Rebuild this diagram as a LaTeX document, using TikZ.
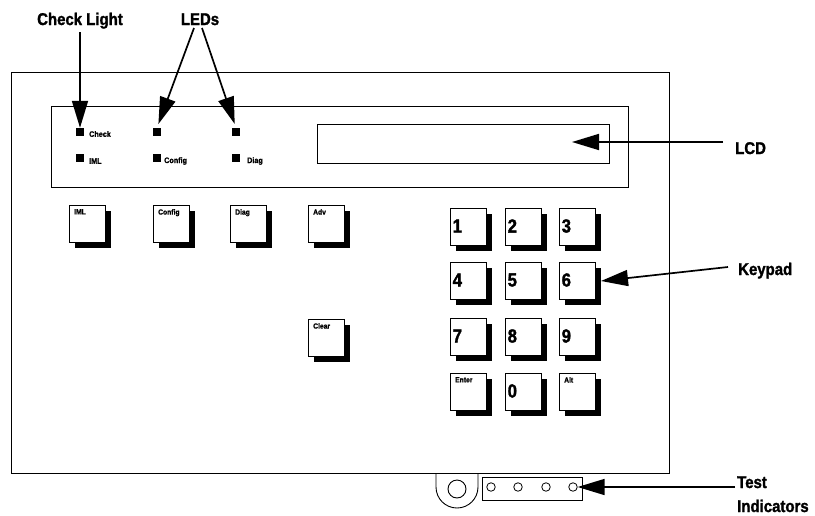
\documentclass[tikz,border=0pt]{standalone}
\usepackage{fontspec}
\newfontfamily\condb{Liberation Sans Bold}[FakeStretch=0.88, FakeBold=1.5]
\newfontfamily\condt{Liberation Sans Bold}[FakeStretch=0.9, FakeBold=1]
\usetikzlibrary{arrows.meta,shadows}
\begin{document}
\begin{tikzpicture}[x=1pt,y=-1pt,
  big/.style={font=\condb\fontsize{17}{20}\selectfont, inner sep=0pt},
  tiny/.style={font=\condt\fontsize{7.5}{8}\selectfont, inner sep=0pt},
  ledlab/.style={font=\condt\fontsize{8}{9}\selectfont, inner sep=0pt, anchor=west},
  digit/.style={font=\condb\fontsize{19}{22}\selectfont, inner sep=0pt, anchor=west, xshift=2.5pt, yshift=1pt},
  btnlab/.style={tiny, anchor=north west, xshift=5pt, yshift=-4pt},
  arr/.style={line width=1.7pt, -{Triangle[length=27pt,width=16pt]}},
  frame/.style={line width=0.9pt},
  key/.style={draw, line width=1pt, fill=white, minimum width=36pt, minimum height=37pt,
    inner sep=0pt, anchor=north west,
    drop shadow={shadow xshift=5pt, shadow yshift=-5pt, fill=black, opacity=1}},
  led/.style={fill=black, minimum size=8pt, inner sep=0pt},
  ind/.style={circle, draw, line width=0.8pt, minimum size=8.5pt, inner sep=0pt}]
\useasboundingbox (0,0) rectangle (815,515);

% housing, panel, LCD window
\draw[frame] (11,72) rectangle (669,473);
\draw[frame] (51,106) rectangle (628,187);
\draw[frame] (317,124) rectangle (609,163);

% mounting tab and test indicator strip
\draw[frame] (436,473) -- (436,487) arc[start angle=180, end angle=0, radius=21] -- (478,473);
\node[circle, draw, line width=0.9pt, minimum size=18pt, inner sep=0pt] (tabhole) at (457,489) {};
\draw[frame] (482,477) rectangle (582,500);
\node[ind] (ti1) at (491,487) {};
\node[ind] (ti2) at (518,487) {};
\node[ind] (ti3) at (546,487) {};
\node[ind] (ti4) at (573,487) {};

% LEDs
\node[led] (ledchk) at (80,132) {};
\node[led] (ledimlled) at (80,158) {};
\node[led] (ledcfg) at (157,132) {};
\node[led] (ledcfglow) at (157,158) {};
\node[led] (leddiag) at (236,132) {};
\node[led] (leddiaglow) at (236,158) {};
\node[ledlab] (tchk) at (89,134) {Check};
\node[ledlab] (timl) at (89,161) {IML};
\node[ledlab] (tcfg) at (164,161) {Config};
\node[ledlab] (tdiag) at (247,161) {Diag};

% function buttons
\node[key, label={[btnlab]north west:IML}] (biml) at (69,205) {};
\node[key, label={[btnlab]north west:Config}] (bcfg) at (153,205) {};
\node[key, label={[btnlab]north west:Diag}] (bdiag) at (230,205) {};
\node[key, label={[btnlab]north west:Adv}] (badv) at (308,205) {};
\node[key, label={[btnlab]north west:Clear}] (bclear) at (308,319) {};

% keypad
\node[key, label={[digit]west:1}] (k1) at (450,208) {};
\node[key, label={[digit]west:2}] (k2) at (505,208) {};
\node[key, label={[digit]west:3}] (k3) at (559,208) {};
\node[key, label={[digit]west:4}] (k4) at (450,262) {};
\node[key, label={[digit]west:5}] (k5) at (505,262) {};
\node[key, label={[digit]west:6}] (k6) at (559,262) {};
\node[key, label={[digit]west:7}] (k7) at (450,318) {};
\node[key, label={[digit]west:8}] (k8) at (505,318) {};
\node[key, label={[digit]west:9}] (k9) at (559,318) {};
\node[key, label={[btnlab]north west:Enter}] (kenter) at (450,373) {};
\node[key, label={[digit]west:0}] (k0) at (505,373) {};
\node[key, label={[btnlab]north west:Alt}] (kalt) at (559,373) {};

% callout labels
\node[big, anchor=base] (lchk) at (80,25) {Check Light};
\node[big, anchor=base] (lleds) at (200,25) {LEDs};
\node[big, anchor=base west] (llcd) at (735,154) {LCD};
\node[big, anchor=base west] (lkey) at (738,275) {Keypad};
\node[big, anchor=base west] (ltest) at (737,488) {Test};
\node[big, anchor=base west] (lind) at (737,512) {Indicators};

% connector start points
\coordinate (chkfrom) at (80,32);
\coordinate (ledsfromA) at (194,28);
\coordinate (ledsfromB) at (202,28);
\coordinate (lcdfrom) at (723,142);
\coordinate (lcdtip) at (572,142);
\coordinate (kpfrom) at (728,267);
\coordinate (testfrom) at (735,487);

% arrows
\draw[arr] (chkfrom) -- (ledchk.north);
\draw[arr, shorten >=4pt] (ledsfromA) -- (ledcfg.north);
\draw[arr, shorten >=4pt] (ledsfromB) -- (leddiag.north);
\draw[arr] (lcdfrom) -- (lcdtip);
\draw[arr] (kpfrom) -- ([xshift=5pt]k6.east);
\draw[arr] (testfrom) -- (ti4.east);
\end{tikzpicture}
\end{document}
